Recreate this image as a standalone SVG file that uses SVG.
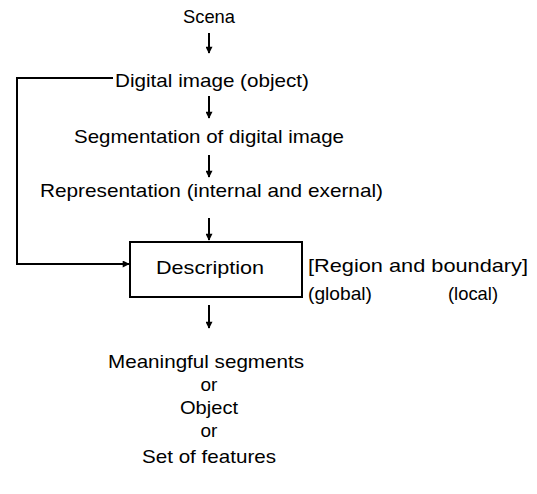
<svg xmlns="http://www.w3.org/2000/svg" width="537" height="494" viewBox="0 0 537 494">
<defs>
<marker id="ah" viewBox="0 0 10 10" refX="9" refY="5" markerWidth="8" markerHeight="7" markerUnits="userSpaceOnUse" orient="auto">
<path d="M0,0 L10,5 L0,10 Z" fill="#000"/>
</marker>
<style>
text{font-family:"Liberation Sans",Arial,sans-serif;font-size:19px;fill:#000}
.c{text-anchor:middle}
.ln{stroke:#000;stroke-width:2;fill:none}
.ar{stroke:#000;stroke-width:2;fill:none;marker-end:url(#ah)}
</style>
</defs>
<rect width="537" height="494" fill="#fff"/>
<g id="connectors">
<line class="ar" x1="209" y1="33" x2="209" y2="53"/>
<line class="ar" x1="209" y1="96" x2="209" y2="118"/>
<line class="ar" x1="209" y1="155" x2="209" y2="177"/>
<line class="ar" x1="209" y1="218" x2="209" y2="240"/>
<line class="ar" x1="209" y1="305" x2="209" y2="328"/>
<polyline class="ln" points="113,78 17,78 17,264 110,264"/>
<line class="ar" x1="105" y1="264" x2="129" y2="264"/>
</g>
<g id="scene"><text class="c" x="209" y="23" textLength="52" lengthAdjust="spacingAndGlyphs">Scena</text></g>
<g id="digital-image"><text x="115" y="87" textLength="194" lengthAdjust="spacingAndGlyphs">Digital image (object)</text></g>
<g id="segmentation"><text x="74" y="143" textLength="270" lengthAdjust="spacingAndGlyphs">Segmentation of digital image</text></g>
<g id="representation"><text x="40" y="197" textLength="343" lengthAdjust="spacingAndGlyphs">Representation (internal and exernal)</text></g>
<g id="description">
<rect x="130" y="242" width="172" height="55" fill="none" stroke="#000" stroke-width="2"/>
<text class="c" x="210" y="274" textLength="108" lengthAdjust="spacingAndGlyphs">Description</text>
</g>
<g id="description-notes">
<text x="308" y="272" textLength="220" lengthAdjust="spacingAndGlyphs">[Region and boundary]</text>
<text x="308" y="300" textLength="64" lengthAdjust="spacingAndGlyphs">(global)</text>
<text x="448" y="300" textLength="50" lengthAdjust="spacingAndGlyphs">(local)</text>
</g>
<g id="result">
<text class="c" x="206" y="368" textLength="196" lengthAdjust="spacingAndGlyphs">Meaningful segments</text>
<text class="c" x="209" y="391">or</text>
<text class="c" x="209" y="414" textLength="58" lengthAdjust="spacingAndGlyphs">Object</text>
<text class="c" x="209" y="437">or</text>
<text class="c" x="209" y="463" textLength="134" lengthAdjust="spacingAndGlyphs">Set of features</text>
</g>
</svg>
